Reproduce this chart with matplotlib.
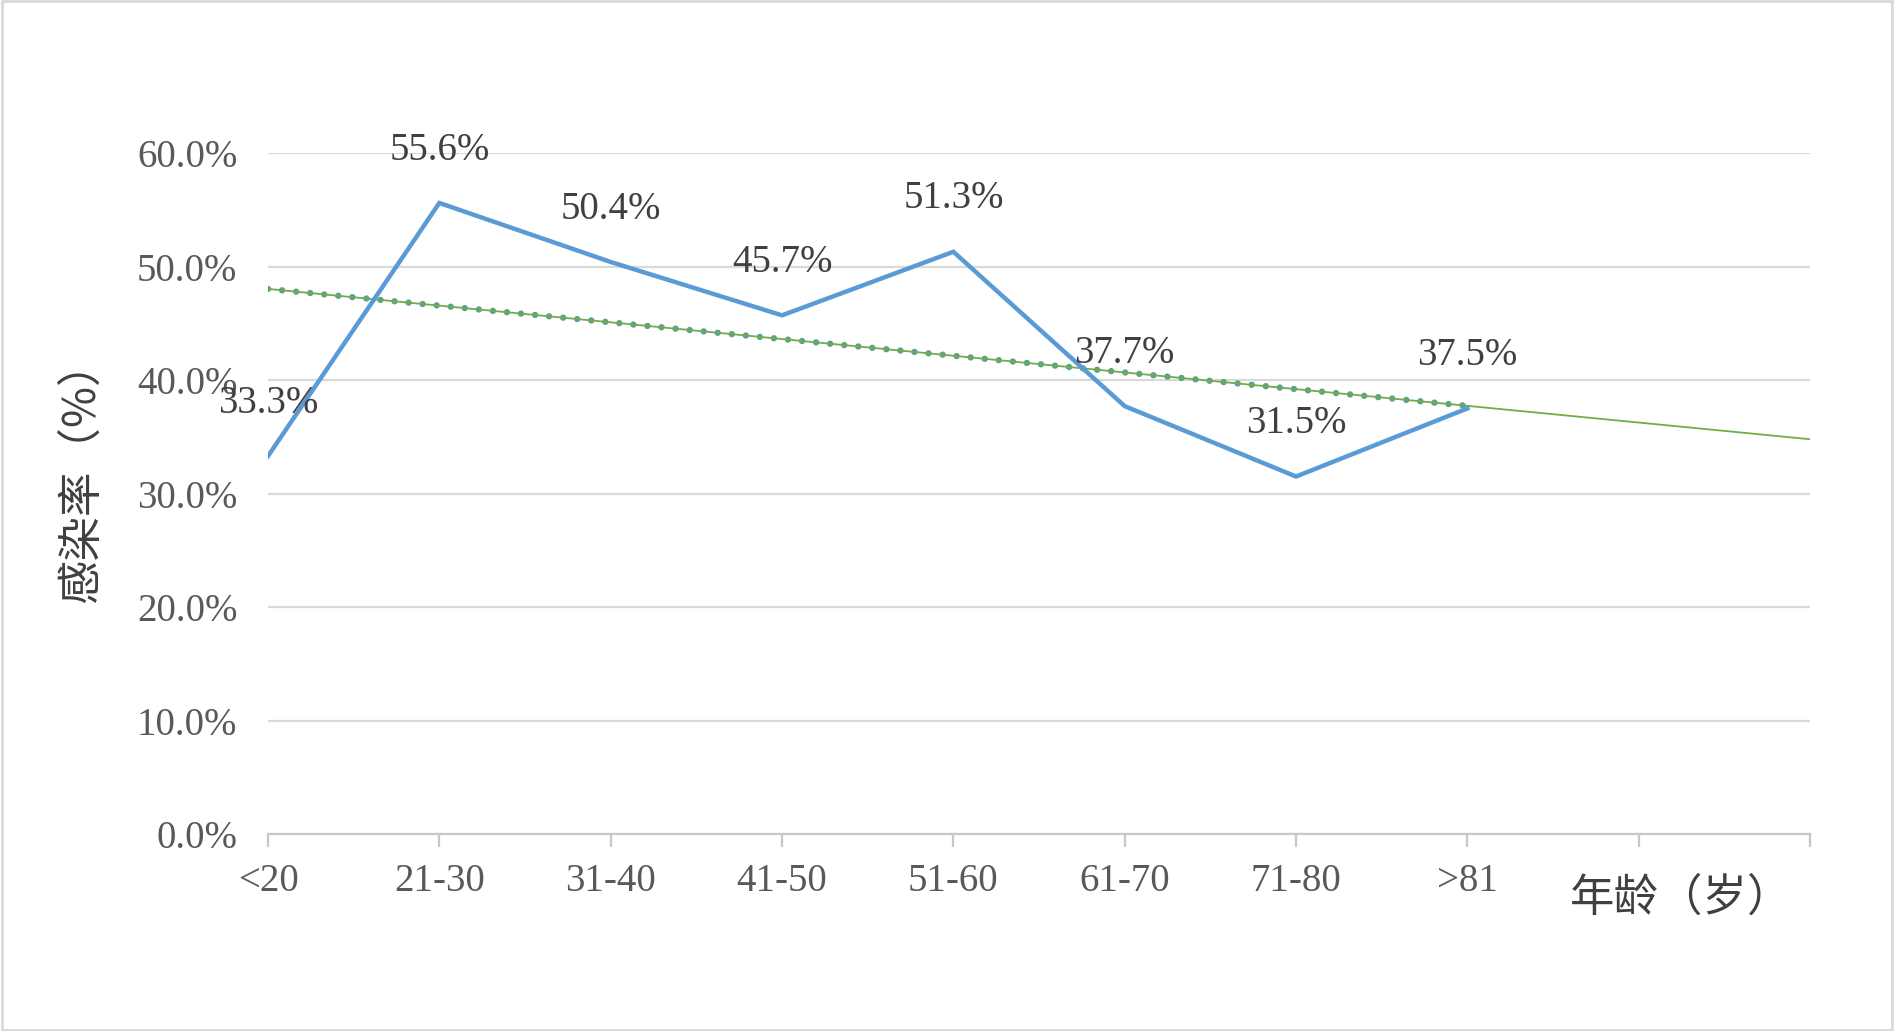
import numpy as np
import matplotlib
matplotlib.use("Agg")
import matplotlib.pyplot as plt
from matplotlib.patches import Rectangle

# 数据
nianling = ["<20", "21-30", "31-40", "41-50", "51-60", "61-70", "71-80", ">81"]
ganranlv = [33.3, 55.6, 50.4, 45.7, 51.3, 37.7, 31.5, 37.5]
y_ticks = [0, 10, 20, 30, 40, 50, 60]
qianzhan = 2  # 趋势线向前预测的周期数

plt.rcParams['font.family'] = ['Liberation Serif', 'Noto Sans CJK SC']

fig = plt.figure(figsize=(18.94, 10.31), dpi=100)
ax = fig.add_axes([0.1415, 0.191, 0.8142, 0.6606])

x = np.arange(len(nianling))
y = np.array(ganranlv) / 100

# 线性趋势线
k, b = np.polyfit(x, y, 1)
x_all = np.arange(len(nianling) + qianzhan)

ax.plot(x, k * x + b, color='#5E9CA0', lw=4.6, linestyle=(0, (0.01, 2.2)),
        dash_capstyle='round', zorder=3)
ax.plot(x_all, k * x_all + b, color='#70AD47', lw=1.3, zorder=4)

ax.plot(x, y, color='#5B9BD5', lw=3.2, zorder=5, solid_joinstyle='miter')

for xi, yi, v in zip(x, y, ganranlv):
    ax.annotate(f"{v:.1f}%", (xi, yi), xytext=(0, 38), textcoords='offset points',
                ha='center', va='center', fontsize=28, color='#404040', zorder=6)

ax.set_xlim(0, len(x_all) - 1)
ax.set_ylim(0, 0.6)
ax.set_yticks(np.array(y_ticks) / 100)
ax.set_yticklabels([f"{t:.1f}%" for t in y_ticks], fontsize=28, color='#595959')
ax.set_xticks(x_all)
ax.set_xticklabels(nianling + [""] * qianzhan, fontsize=28, color='#595959')

ax.yaxis.grid(True, color='#D9D9D9', lw=1.6)
ax.set_axisbelow(True)
for s in ['top', 'right', 'left']:
    ax.spines[s].set_visible(False)
ax.spines['bottom'].set_color('#C8C8C8')
ax.spines['bottom'].set_linewidth(1.6)
ax.tick_params(axis='y', length=0, pad=22)
ax.tick_params(axis='x', length=9, width=1.6, color='#C8C8C8', pad=12)

fig.text(0.0425, 0.543, "感染率（%）", rotation=90, ha='center', va='center',
         fontsize=32, color='#404040', family=['Noto Sans CJK SC', 'DejaVu Sans'])
fig.text(0.829, 0.129, "年龄（岁）", ha='left', va='center',
         fontsize=32, color='#404040', family=['Noto Sans CJK SC', 'DejaVu Sans'])

fig.patches.append(Rectangle((0.001, 0.001), 0.998, 0.998, transform=fig.transFigure,
                             fill=False, edgecolor='#D9D9D9', lw=2))

fig.savefig("out.png", dpi=100)
